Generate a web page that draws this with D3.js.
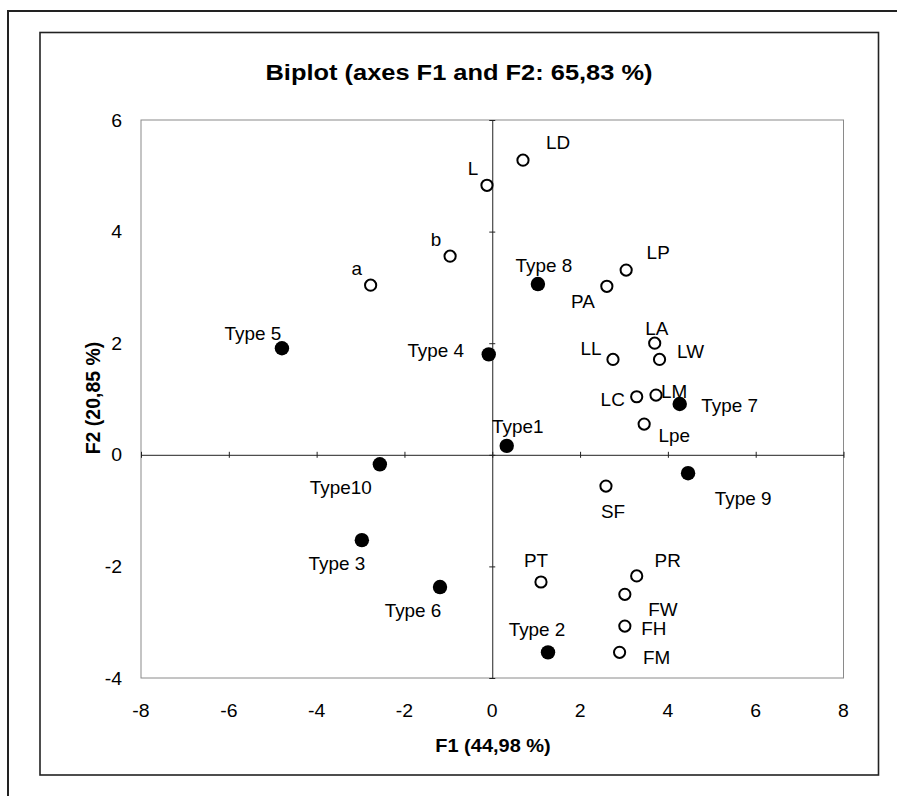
<!DOCTYPE html>
<html>
<head>
<meta charset="utf-8">
<script src="https://cdn.jsdelivr.net/npm/d3@7"></script>
<style>
  html, body { margin: 0; padding: 0; background: #fff; }
  svg { display: block; font-family: "Liberation Sans", Arial, sans-serif; }
</style>
</head>
<body>
<svg id="chart" width="897" height="796"></svg>
<script>
// ---- Data ----
const variableNames = ["LD","L","b","a","LP","PA","LA","LW","LL","LC","LM","Lpe","SF","PR","PT","FW","FH","FM"];
const variableF1    = [0.70,-0.12,-0.96,-2.77,3.05,2.61,3.70,3.81,2.75,3.29,3.73,3.46,2.59,3.29,1.11,3.02,3.02,2.90];
const variableF2    = [5.28,4.83,3.56,3.04,3.31,3.02,2.00,1.71,1.71,1.04,1.07,0.55,-0.56,-2.17,-2.28,-2.50,-3.07,-3.54];

const typeNames = ["Type 8","Type 5","Type 4","Type 7","Type1","Type10","Type 9","Type 3","Type 6","Type 2"];
const typeF1    = [1.04,-4.79,-0.08,4.27,0.33,-2.56,4.46,-2.97,-1.19,1.27];
const typeF2    = [3.06,1.91,1.80,0.91,0.16,-0.17,-0.33,-1.53,-2.37,-3.54];

const xTicks = [-8,-6,-4,-2,0,2,4,6,8];
const yTicks = [-4,-2,0,2,4,6];

const titleText = "Biplot (axes F1 and F2: 65,83 %)";
const xTitle = "F1 (44,98 %)";
const yTitle = "F2 (20,85 %)";

// ---- Label placement (pixel offsets from the marker) ----
const labelOffset = {
  "LD":[35,-17], "L":[-14,-17], "b":[-14,-16], "a":[-14,-16], "LP":[32,-17], "PA":[-24,15],
  "LA":[2,-15], "LW":[31,-8], "LL":[-22,-11], "LC":[-24,3], "LM":[18,-3], "Lpe":[30,12],
  "SF":[7,26], "PR":[31,-15], "PT":[-5,-21], "FW":[38,15], "FH":[29,3], "FM":[37,5],
  "Type 8":[6,-18], "Type 5":[-29,-15], "Type 4":[-53,-4], "Type 7":[50,2], "Type1":[11,-19],
  "Type10":[-39,23], "Type 9":[55,25], "Type 3":[-25,24], "Type 6":[-27,24], "Type 2":[-11,-23]
};

// ---- Layout ----
const svg = d3.select("#chart");
const plot = {left:141, right:843.5, top:120, bottom:678};
const SX = 1.08; // horizontal stretch of the reference rendering

const x = d3.scaleLinear().domain([-8, 8]).range([plot.left, plot.right]);
const y = d3.scaleLinear().domain([-4, 6]).range([plot.bottom, plot.top]);

function stretched(sel, px, py, sx) {
  return sel.attr("x", 0).attr("y", 0)
    .attr("transform", (d, i) => `translate(${typeof px === "function" ? px(d, i) : px},${typeof py === "function" ? py(d, i) : py}) scale(${sx},1)`);
}

// outer frame (clipped on right/bottom)
svg.append("rect").attr("x", 8).attr("y", 11).attr("width", 1200).attr("height", 1200)
  .attr("fill", "none").attr("stroke", "#222").attr("stroke-width", 2);
// inner chart box
svg.append("rect").attr("x", 40).attr("y", 32.5).attr("width", 838.5).attr("height", 742.5)
  .attr("fill", "none").attr("stroke", "#222").attr("stroke-width", 1.6);

// plot area border
svg.append("rect").attr("x", plot.left).attr("y", plot.top)
  .attr("width", plot.right - plot.left).attr("height", plot.bottom - plot.top)
  .attr("fill", "none").attr("stroke", "#8a8a8a").attr("stroke-width", 1);

// zero axes with ticks
const gx = svg.append("g").attr("transform", `translate(0,${y(0)})`)
  .call(d3.axisBottom(x).tickValues(xTicks).tickSizeInner(6).tickSizeOuter(0).tickFormat(""));
gx.selectAll(".tick line").attr("transform", "translate(0,-3)").attr("stroke", "#222");
gx.select(".domain").attr("stroke", "#222");

const gy = svg.append("g").attr("transform", `translate(${x(0)},0)`)
  .call(d3.axisLeft(y).tickValues(yTicks).tickSizeInner(6).tickSizeOuter(0).tickFormat(""));
gy.selectAll(".tick line").attr("transform", "translate(3,0)").attr("stroke", "#222");
gy.select(".domain").attr("stroke", "#222");

// tick labels
stretched(svg.append("g").selectAll("text").data(xTicks).join("text"), d => x(d), 717, SX)
  .attr("text-anchor", "middle").attr("font-size", 18).attr("fill", "#000")
  .text(d => d);
stretched(svg.append("g").selectAll("text").data(yTicks).join("text"), 122, d => y(d) + 6.5, SX)
  .attr("text-anchor", "end").attr("font-size", 18).attr("fill", "#000")
  .text(d => d);

// titles
stretched(svg.append("text"), 459, 80, 1.13).attr("text-anchor", "middle")
  .attr("font-size", 22.5).attr("font-weight", "bold").text(titleText);
stretched(svg.append("text"), 493, 752, SX).attr("text-anchor", "middle")
  .attr("font-size", 18.5).attr("font-weight", "bold").text(xTitle);
svg.append("text").attr("transform", "translate(100,398) scale(1.08,1) rotate(-90)").attr("text-anchor", "middle")
  .attr("font-size", 19.5).attr("font-weight", "bold").text(yTitle);

// points
const vars = variableNames.map((n, i) => ({name:n, f1:variableF1[i], f2:variableF2[i]}));
const types = typeNames.map((n, i) => ({name:n, f1:typeF1[i], f2:typeF2[i]}));

svg.append("g").selectAll("circle").data(vars).join("circle")
  .attr("cx", d => x(d.f1)).attr("cy", d => y(d.f2)).attr("r", 5.6)
  .attr("fill", "#fff").attr("stroke", "#000").attr("stroke-width", 2);
svg.append("g").selectAll("circle").data(types).join("circle")
  .attr("cx", d => x(d.f1)).attr("cy", d => y(d.f2)).attr("r", 7.2)
  .attr("fill", "#000");

// labels
stretched(svg.append("g").selectAll("text").data(vars.concat(types)).join("text"),
    d => x(d.f1) + labelOffset[d.name][0], d => y(d.f2) + labelOffset[d.name][1] + 6.3, SX)
  .attr("text-anchor", "middle").attr("font-size", 17.5).attr("fill", "#000")
  .text(d => d.name);
</script>
</body>
</html>
